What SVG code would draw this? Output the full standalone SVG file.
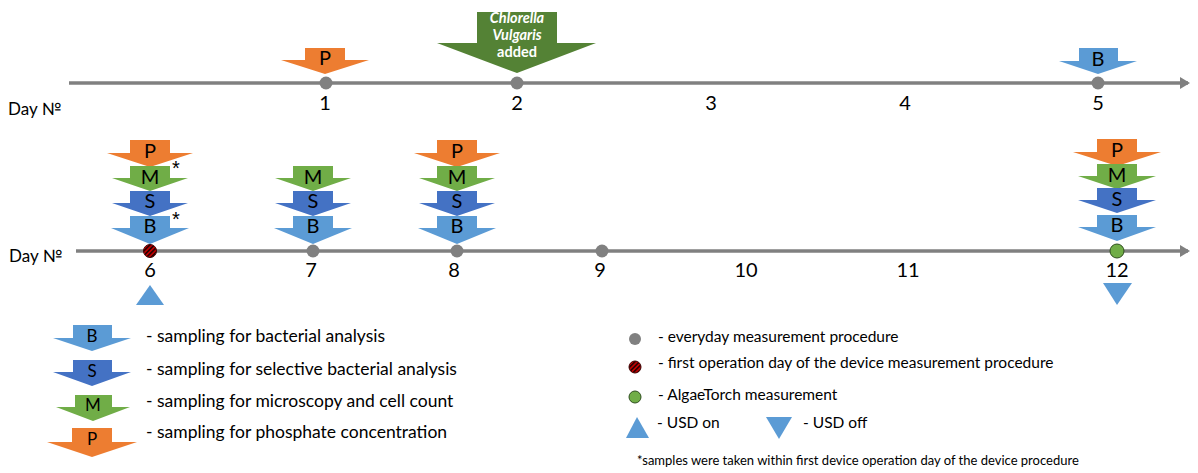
<svg xmlns="http://www.w3.org/2000/svg" width="1198" height="473" viewBox="0 0 1198 473">
<style>
.t{font-family:Lato,"Liberation Sans",sans-serif;fill:#000}
.lbl{font-size:20px;text-anchor:middle}
.day{font-size:20px;text-anchor:middle}
.dayno{font-size:17px}
.leg{font-size:17.5px}
.legr{font-size:15.5px}
.legl{font-size:17px;text-anchor:middle}
.ast{font-family:"Liberation Sans",Arial,sans-serif;font-size:20px;fill:#000}
.P{fill:#ED7D31}.M{fill:#70AD47}.S{fill:#4472C4}.B{fill:#5B9BD5}
.axis{stroke:#808080;stroke-width:3.5;fill:none}
.dot{fill:#808080}
.usd{fill:#5B9BD5}
.cv{font-family:Lato,"Liberation Sans",sans-serif;font-size:14.5px;font-weight:bold;fill:#fff;text-anchor:middle}
</style>
<defs>
<marker id="ah" markerWidth="10" markerHeight="12" refX="8" refY="6" orient="auto" markerUnits="userSpaceOnUse">
<path d="M0,0 L10,6 L0,12 Z" fill="#808080"/>
</marker>
<pattern id="hatch" width="3.2" height="3.2" patternUnits="userSpaceOnUse" patternTransform="rotate(45)">
<rect width="3.2" height="3.2" fill="#C00000"/>
<rect width="1.5" height="3.2" fill="#200000"/>
</pattern>
</defs>

<g id="connectors">
<line class="axis" x1="69" y1="83" x2="1188" y2="83" marker-end="url(#ah)"/>
<line class="axis" x1="76" y1="251" x2="1188" y2="251" marker-end="url(#ah)"/>
</g>

<g id="axis-labels">
<text class="t dayno" x="8" y="115">Day №</text>
<text class="t dayno" x="9" y="262">Day №</text>
<text class="t day" x="325" y="110">1</text>
<text class="t day" x="517" y="110">2</text>
<text class="t day" x="711" y="110">3</text>
<text class="t day" x="905" y="110">4</text>
<text class="t day" x="1098" y="110">5</text>
<text class="t day" x="150" y="277">6</text>
<text class="t day" x="311" y="277">7</text>
<text class="t day" x="454" y="277">8</text>
<text class="t day" x="600" y="277">9</text>
<text class="t day" x="746" y="277">10</text>
<text class="t day" x="908" y="277">11</text>
<text class="t day" x="1117" y="277">12</text>
</g>

<g id="day1">
<circle class="dot" cx="326" cy="83" r="6.5"/>
<path class="P" d="M305,48 H345 V60 H369 L325,74 L281,60 H305 Z"/>
<text class="t lbl" x="325" y="65">P</text>
</g>

<g id="day2">
<circle class="dot" cx="517" cy="83" r="6.5"/>
<path fill="#548235" d="M477,12 H557 V43 H596 L517,73 L437,43 H477 Z"/>
<text class="cv" font-style="italic" x="517" y="23">Chlorella</text>
<text class="cv" font-style="italic" x="517" y="40">Vulgaris</text>
<text class="cv" x="517" y="57">added</text>
</g>

<g id="day5">
<circle class="dot" cx="1098" cy="83" r="6.5"/>
<path class="B" d="M1079,48 H1118 V61 H1137 L1098,74 L1059,61 H1079 Z"/>
<text class="t lbl" x="1098" y="66">B</text>
</g>

<g id="day6">
<path class="P" d="M130,140 H170 V153 H193 L150,167 L107,153 H130 Z"/>
<text class="t lbl" x="150" y="158">P</text>
<path class="M" d="M130,166 H170 V178 H188 L150,191 L112,178 H130 Z"/>
<text class="t lbl" x="150" y="184">M</text>
<path class="S" d="M130,191 H170 V203 H188 L150,216 L112,203 H130 Z"/>
<text class="t lbl" x="150" y="208">S</text>
<path class="B" d="M130,216 H170 V228 H189 L150,244 L111,228 H130 Z"/>
<text class="t lbl" x="150" y="233">B</text>
<text class="ast" x="172" y="175">*</text>
<text class="ast" x="172" y="226">*</text>
<circle cx="150" cy="251" r="6.5" fill="url(#hatch)" stroke="#400000" stroke-width="1"/>
<path class="usd" d="M150,285 L164,305 L136,305 Z"/>
</g>

<g id="day7">
<path class="M" d="M293,166 H333 V178 H351 L313,191 L275,178 H293 Z"/>
<text class="t lbl" x="313" y="184">M</text>
<path class="S" d="M293,191 H333 V203 H351 L313,216 L275,203 H293 Z"/>
<text class="t lbl" x="313" y="208">S</text>
<path class="B" d="M293,216 H333 V228 H352 L313,244 L274,228 H293 Z"/>
<text class="t lbl" x="313" y="233">B</text>
<circle class="dot" cx="313" cy="251" r="6.5"/>
</g>

<g id="day8">
<path class="P" d="M437,140 H477 V153 H500 L457,167 L414,153 H437 Z"/>
<text class="t lbl" x="457" y="158">P</text>
<path class="M" d="M437,166 H477 V178 H495 L457,191 L419,178 H437 Z"/>
<text class="t lbl" x="457" y="184">M</text>
<path class="S" d="M437,191 H477 V203 H495 L457,216 L419,203 H437 Z"/>
<text class="t lbl" x="457" y="208">S</text>
<path class="B" d="M437,216 H477 V228 H496 L457,244 L418,228 H437 Z"/>
<text class="t lbl" x="457" y="233">B</text>
<circle class="dot" cx="457" cy="251" r="6.5"/>
</g>

<g id="day9">
<circle class="dot" cx="602" cy="251" r="6.5"/>
</g>

<g id="day12">
<path class="P" d="M1097,139 H1137 V152 H1161 L1117,166 L1073,152 H1097 Z"/>
<text class="t lbl" x="1117" y="157">P</text>
<path class="M" d="M1097,164 H1137 V176 H1156 L1117,189 L1078,176 H1097 Z"/>
<text class="t lbl" x="1117" y="182">M</text>
<path class="S" d="M1097,188 H1137 V200 H1156 L1117,213 L1078,200 H1097 Z"/>
<text class="t lbl" x="1117" y="206">S</text>
<path class="B" d="M1097,215 H1137 V227 H1156 L1117,241 L1078,227 H1097 Z"/>
<text class="t lbl" x="1117" y="232">B</text>
<circle cx="1117" cy="251" r="7" fill="#70AD47" stroke="#2F4F1F" stroke-width="1"/>
<path class="usd" d="M1103,283 L1132,283 L1117,305 Z"/>
</g>

<g id="legend-left">
<path class="B" d="M73,325 H112 V338 H131 L92,351 L53,338 H73 Z"/>
<text class="t legl" x="92" y="342">B</text>
<text class="t leg" x="146" y="342">- sampling for bacterial analysis</text>
<path class="S" d="M73,360 H112 V372 H131 L92,386 L53,372 H73 Z"/>
<text class="t legl" x="92" y="377">S</text>
<text class="t leg" x="146" y="375">- sampling for selective bacterial analysis</text>
<path class="M" d="M75,395 H112 V407 H130 L93,421 L56,407 H75 Z"/>
<text class="t legl" x="93" y="411">M</text>
<text class="t leg" x="146" y="407">- sampling for microscopy and cell count</text>
<path class="P" d="M72,428 H112 V442 H137 L92,457 L47,442 H72 Z"/>
<text class="t legl" x="92" y="445">P</text>
<text class="t leg" x="146" y="438">- sampling for phosphate concentration</text>
</g>

<g id="legend-right">
<circle class="dot" cx="635" cy="339" r="6"/>
<text class="t legr" x="658" y="342">- everyday measurement procedure</text>
<circle cx="635" cy="367" r="6" fill="url(#hatch)" stroke="#400000" stroke-width="1"/>
<text class="t legr" x="658" y="368">- first operation day of the device measurement procedure</text>
<circle cx="635" cy="397" r="6" fill="#70AD47" stroke="#2F4F1F" stroke-width="1"/>
<text class="t legr" x="658" y="400">- AlgaeTorch measurement</text>
<path class="usd" d="M637,417 L649,438 L626,438 Z"/>
<text class="t legr" x="657" y="428">- USD on</text>
<path class="usd" d="M766,417 L792,417 L779,439 Z"/>
<text class="t legr" x="803" y="428">- USD off</text>
<text class="t" font-size="13" x="637" y="465">*samples were taken within first device operation day of the device procedure</text>
</g>
</svg>
